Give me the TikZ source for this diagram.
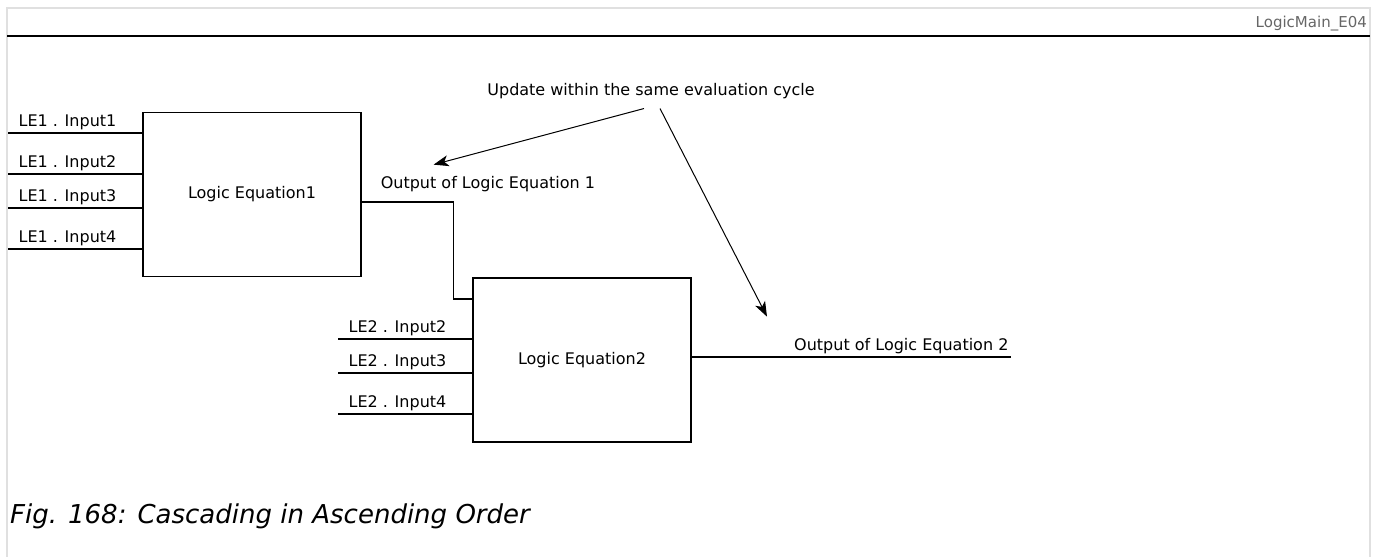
\documentclass[tikz,border=0pt]{standalone}
\usepackage{fontspec}
\setmainfont{DejaVu Sans}
\usetikzlibrary{arrows.meta,calc}

\begin{document}
\begin{tikzpicture}[
        x=1pt, y=-1pt,
        % Global Styles
        block/.style={rectangle, draw, line width=1.2pt, minimum width=218pt, minimum height=164pt, inner sep=0pt, font=\fontsize{16}{19}\selectfont},
        txt/.style={inner sep=0pt, font=\fontsize{16}{19}\selectfont},
        inlabel/.style={txt, anchor=base west, xshift=10pt, yshift=7pt},
        wire/.style={line width=1.2pt},
        arrow/.style={line width=1pt, -{Stealth[length=15pt, width=11pt, inset=4pt]}},
        pageframe/.style={draw=black!12, line width=2pt}
    ]
    \useasboundingbox (0,0) rectangle (1379,557);

    % --- Page frame and header ---
    \draw [pageframe] (7,557) -- (7,8) -- (1370,8) -- (1370,557);
    \draw [line width=2.4pt] (7,36) -- (1370,36);
    \node (hdr) [txt, anchor=base east, text=black!60, font=\fontsize{15}{18}\selectfont] at (1367,27) {LogicMain\_E04};

    % --- Logic blocks ---
    \node (LE1) [block] at (252,194.5) {Logic Equation1};
    \node (LE2) [block] at (582,360) {Logic Equation2};

    % --- Inputs of Logic Equation1 ---
    \coordinate (in11) at (8,133);
    \coordinate (in12) at (8,174);
    \coordinate (in13) at (8,208);
    \coordinate (in14) at (8,249);
    \draw [wire] (in11) node[inlabel] {LE1 . Input1} -- (in11 -| LE1.west);
    \draw [wire] (in12) node[inlabel] {LE1 . Input2} -- (in12 -| LE1.west);
    \draw [wire] (in13) node[inlabel] {LE1 . Input3} -- (in13 -| LE1.west);
    \draw [wire] (in14) node[inlabel] {LE1 . Input4} -- (in14 -| LE1.west);

    % --- Inputs of Logic Equation2 ---
    \coordinate (in22) at (338,339);
    \coordinate (in23) at (338,373);
    \coordinate (in24) at (338,414);
    \draw [wire] (in22) node[inlabel] {LE2 . Input2} -- (in22 -| LE2.west);
    \draw [wire] (in23) node[inlabel] {LE2 . Input3} -- (in23 -| LE2.west);
    \draw [wire] (in24) node[inlabel] {LE2 . Input4} -- (in24 -| LE2.west);

    % --- Cascade: output 1 feeds LE2 ---
    \draw [wire] ($(LE1.east)+(0,7.5)$) -- ++(92,0) |- ($(LE2.west)+(0,-61)$);
    \node (out1) [txt, anchor=base west] at ($(LE1.east)+(19,-6.5)$) {Output of Logic Equation 1};

    % --- Output of LE2 ---
    \coordinate (q2) at ($(LE2.east)+(319,-3)$);
    \draw [wire] (LE2.east |- q2) -- (q2);
    \node (out2) [txt, anchor=base east] at ($(q2)+(-2,-7)$) {Output of Logic Equation 2};

    % --- Annotation ---
    \node (upd) [txt, anchor=base] at (651,95) {Update within the same evaluation cycle};
    \draw [arrow] ($(upd.south)+(-7,10)$) -- ($(out1.north west)+(53,-11)$);
    \draw [arrow] ($(upd.south)+(9,10)$) -- ($(out2.north west)+(-27,-21)$);

    % Caption
    \node (cap) [anchor=base west, inner sep=0pt, font=\fontsize{26}{31}\selectfont\itshape] at (10,523) {Fig. 168: Cascading in Ascending Order};

\end{tikzpicture}
\end{document}
